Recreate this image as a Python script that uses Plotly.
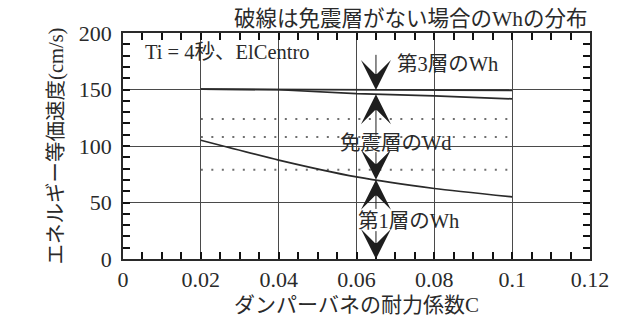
import numpy as np
import plotly.graph_objects as go

# damper spring strength coefficient C
c_vals = [0.02, 0.04, 0.06, 0.08, 0.10]

# energy-equivalent velocity (cm/s)
wh3_a = [150.4, 150.0, 149.7, 149.4, 149.2]   # 3rd storey Wh
wh3_b = [150.4, 149.8, 146.3, 144.4, 141.7]   # 3rd storey Wh (lower trace)
wh1 = [105.1, 87.5, 72.6, 62.4, 55.0]          # 1st storey Wh

# Wh distribution without an isolation layer (dashed)
no_iso_levels = [124.0, 108.0, 79.0]

x_range = [0, 0.12]
y_range = [0, 200]
x_major, x_minor = 0.02, 0.005
y_major, y_minor = 50, 10

arrow_x = 0.065

SERIF = "Liberation Serif, Noto Sans CJK JP, serif"
INK = "#2a2a2a"
TICK = "#111111"

fig = go.Figure()

for lvl in no_iso_levels:
    fig.add_trace(go.Scatter(
        x=[c_vals[0], c_vals[-1]], y=[lvl, lvl], mode="lines",
        line=dict(color="#707070", width=2, dash="2px,8.5px"),
        hoverinfo="skip", showlegend=False))

for ys in (wh3_a, wh3_b):
    fig.add_trace(go.Scatter(
        x=c_vals, y=ys, mode="lines",
        line=dict(color=INK, width=1.7),
        showlegend=False))

fig.add_trace(go.Scatter(
    x=c_vals, y=wh1, mode="lines",
    line=dict(color=INK, width=1.7, shape="spline", smoothing=0.6),
    showlegend=False))

tip_top = float(np.interp(arrow_x, c_vals, wh3_a))
tip_mid = float(np.interp(arrow_x, c_vals, wh3_b))
tip_low = float(np.interp(arrow_x, c_vals, wh1))

arrows = [
    (tip_top, 182),
    (tip_mid, 108),
    (tip_low, 96),
    (tip_low, 43),
    (0, 26),
]
annotations = []
for tip, tail in arrows:
    annotations.append(dict(
        x=arrow_x, y=tip, ax=arrow_x, ay=tail,
        xref="x", yref="y", axref="x", ayref="y",
        text="", showarrow=True, arrowhead=3, arrowsize=5,
        arrowwidth=1, arrowcolor="#1e1e1e", standoff=0, startstandoff=0))

labels = [
    ("Ti = 4秒、ElCentro", 0.0052, 183),
    ("第3層のWh", 0.0700, 173),
    ("免震層のWd", 0.0552, 103),
    ("第1層のWh", 0.0598, 33.5),
]
for txt, lx, ly in labels:
    annotations.append(dict(
        x=lx, y=ly, xref="x", yref="y", text=txt, showarrow=False,
        xanchor="left", yanchor="middle",
        font=dict(family=SERIF, size=20.5, color=INK)))

annotations.append(dict(
    x=1.0, y=1.0, xref="paper", yref="paper", yanchor="bottom",
    xanchor="right", text="破線は免震層がない場合のWhの分布", showarrow=False,
    font=dict(family=SERIF, size=21.5, color=INK)))

tick_font = dict(family=SERIF, size=22, color=INK)
axis_common = dict(
    showline=True, linecolor=INK, linewidth=1.5, mirror="ticks",
    ticks="inside", ticklen=7, tickcolor=TICK, tickwidth=1.6,
    showgrid=True, gridcolor="#4a4a4a", gridwidth=1, zeroline=False,
    tickfont=tick_font,
)

fig.update_layout(
    width=621, height=325,
    margin=dict(l=123, r=28, t=33, b=65),
    paper_bgcolor="white", plot_bgcolor="white",
    annotations=annotations,
    xaxis=dict(
        range=x_range, dtick=x_major,
        minor=dict(dtick=x_minor, ticks="inside", ticklen=7,
                   tickcolor=TICK, tickwidth=1.6),
        title=dict(text="ダンパーバネの耐力係数C", standoff=6,
                   font=dict(family=SERIF, size=21, color=INK)),
        **axis_common),
    yaxis=dict(
        range=y_range, dtick=y_major, ticklabelstandoff=5,
        minor=dict(dtick=y_minor, ticks="inside", ticklen=7,
                   tickcolor=TICK, tickwidth=1.6),
        title=dict(text="エネルギー等価速度(cm/s)", standoff=10,
                   font=dict(family=SERIF, size=20.5, color=INK)),
        **axis_common),
)

fig.write_html("out.html")
